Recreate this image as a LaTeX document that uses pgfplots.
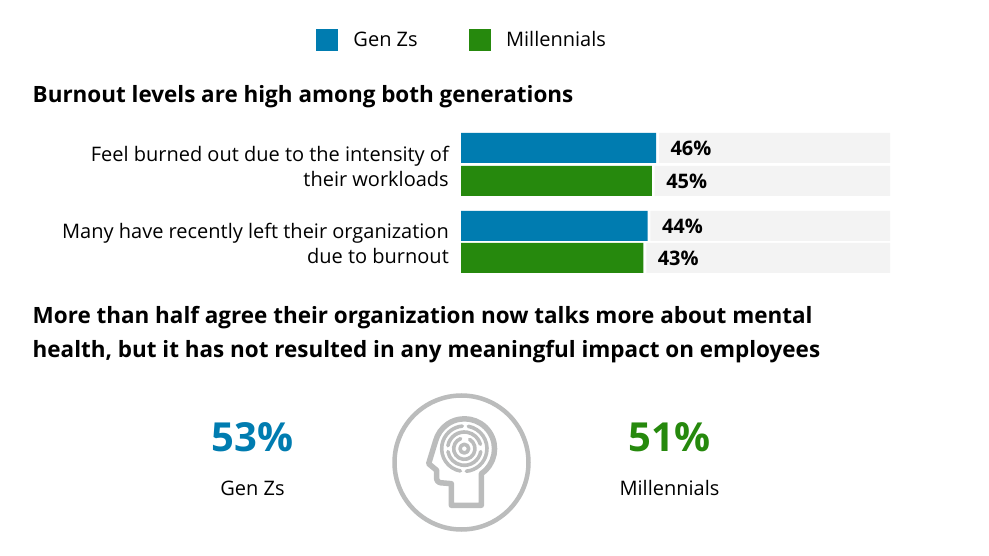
\documentclass[border=0pt]{standalone}
\usepackage{pgfplots}
\pgfplotsset{compat=1.18}
\usepackage{fontspec}
\setmainfont{Open Sans}
\definecolor{dblue}{HTML}{007CB0}
\definecolor{dgreen}{HTML}{26890D}
\definecolor{dbg}{HTML}{F3F3F3}
\definecolor{dgrey}{HTML}{BBBCBC}
\newcommand{\bodyf}{\fontsize{20}{25}\selectfont}
\newcommand{\titlef}{\fontsize{22.45}{34}\selectfont\bfseries}
\newcommand{\bigf}{\fontsize{40}{46}\selectfont\bfseries}
\begin{document}
\begin{tikzpicture}[x=1pt,y=1pt]
\path[use as bounding box] (0,0) rectangle (989,-556);
\begin{axis}[
  at={(461pt,-273pt)}, anchor=south west,
  scale only axis, width=429pt, height=140pt,
  xmin=0, xmax=101.2, ymin=-273, ymax=-133,
  axis lines=none, clip=false,
  xbar, bar width=30pt, bar shift=0pt,
  /pgf/number format/assume math mode=true,
  legend style={at={(0.0023,1.664)},anchor=center,draw=none,fill=none,
    font=\bodyf, legend columns=2,
    /tikz/every even column/.append style={column sep=49pt}},
  legend cell align=left,
]
% grey tracks
\addplot[draw=none,fill=dbg,forget plot] coordinates {(101.2,-148) (101.2,-181) (101.2,-226) (101.2,-258)};
% white gap after each value
\addplot[draw=none,fill=white,forget plot] coordinates {(46.7,-148) (45.7,-181) (44.7,-226) (43.7,-258)};
% Gen Zs
\addplot[draw=none,fill=dblue,forget plot,
  point meta=x, nodes near coords={\pgfmathprintnumber{\pgfplotspointmeta}\%},
  every node near coord/.append style={font=\fontsize{20}{24}\selectfont\bfseries,text=black,anchor=west,xshift=11pt}]
  coordinates {(46,-148) (44,-226)};
% Millennials
\addplot[draw=none,fill=dgreen,forget plot,
  point meta=x, nodes near coords={\pgfmathprintnumber{\pgfplotspointmeta}\%},
  every node near coord/.append style={font=\fontsize{20}{24}\selectfont\bfseries,text=black,anchor=west,xshift=11pt}]
  coordinates {(45,-181) (43,-258)};
\addlegendimage{legend image code/.code={\fill[dblue] (0pt,-10.5pt) rectangle (21pt,10.5pt);}}
\addlegendentry{\hspace{14pt}Gen Zs}
\addlegendimage{legend image code/.code={\fill[dgreen] (0pt,-10.5pt) rectangle (21pt,10.5pt);}}
\addlegendentry{\hspace{14pt}Millennials}
\end{axis}
% titles
\node[anchor=base west,inner sep=0,font=\titlef] at (32.5,-102.5) {Burnout levels are high among both generations};
\node[anchor=base west,inner sep=0,font=\titlef] at (32.5,-323.5) {More than half agree their organization now talks more about mental};
\node[anchor=base west,inner sep=0,font=\titlef] at (32.5,-357.5) {health, but it has not resulted in any meaningful impact on employees};
% category labels
\node[anchor=base east,inner sep=0,font=\bodyf] at (449,-162) {Feel burned out due to the intensity of};
\node[anchor=base east,inner sep=0,font=\bodyf] at (449,-187) {their workloads};
\node[anchor=base east,inner sep=0,font=\bodyf] at (449,-239) {Many have recently left their organization};
\node[anchor=base east,inner sep=0,font=\bodyf] at (449,-264) {due to burnout};
% big numbers
\node[anchor=base,inner sep=0,font=\bigf,text=dblue] at (252.5,-451) {53\%};
\node[anchor=base,inner sep=0,font=\bodyf] at (252.5,-495) {Gen Zs};
\node[anchor=base,inner sep=0,font=\bigf,text=dgreen] at (669.5,-451) {51\%};
\node[anchor=base,inner sep=0,font=\bodyf] at (669.5,-495) {Millennials};
% icon
\draw[dgrey,line width=4.5pt] (461.5,-462.5) circle (67);
\begin{scope}[shift={(380,-385)},x=0.3333pt,y=-0.3333pt,dgrey,line join=round,line cap=round]
\draw[line width=5.5pt] (214,361) -- (304,361) -- (304,266)
  arc[start angle=56,end angle=-165,radius=90] -- (146,236) -- (170,256) -- (170,282) .. controls (172,292) and (180,294) .. (190,294) -- (214,296) -- cycle;
\draw[line width=3.6pt] (253,191) circle (13);
\draw[line width=3.6pt] (253,191) ++(-60:32) arc[start angle=-60,end angle=250,radius=32];
\draw[line width=3.6pt] (253,191) ++(10:50) arc[start angle=10,end angle=170,radius=50];
\draw[line width=3.6pt] (253,191) ++(190:50) arc[start angle=190,end angle=345,radius=50];
\draw[line width=3.6pt] (253,191) ++(-80:68) arc[start angle=-80,end angle=85,radius=68];
\draw[line width=3.6pt] (253,191) ++(100:68) arc[start angle=100,end angle=265,radius=68];
\end{scope}
\end{tikzpicture}
\end{document}
